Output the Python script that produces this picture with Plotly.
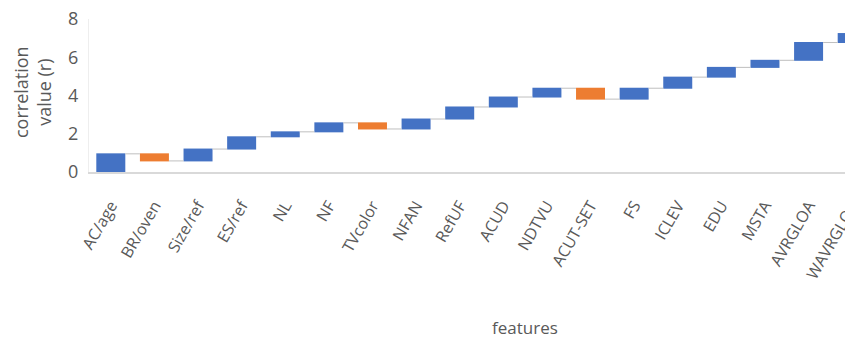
import plotly.graph_objects as go

features = ["AC/age", "BR/oven", "Size/ref", "ES/ref", "NL", "NF", "TVcolor", "NFAN",
            "RefUF", "ACUD", "NDTVU", "ACUT-SET", "FS", "ICLEV", "EDU", "MSTA",
            "AVRGLOA", "WAVRGLOA"]
changes = [0.95, -0.37, 0.62, 0.64, 0.26, 0.47, -0.32, 0.52,
           0.63, 0.52, 0.46, -0.57, 0.57, 0.58, 0.51, 0.37,
           0.93, 0.47]
y_ticks = [0, 2, 4, 6, 8]

BLUE = "#4472C4"
ORANGE = "#ED7D31"
GREY_TXT = "#595959"
FONT = "Open Sans"

W, H = 874, 341
L, T, B = 89, 19, 169
PW = W - L
PH = H - T - B

fig = go.Figure(go.Waterfall(
    x=features,
    y=changes,
    measure=["relative"] * len(features),
    increasing=dict(marker=dict(color=BLUE)),
    decreasing=dict(marker=dict(color=ORANGE)),
    connector=dict(line=dict(color="#BFBFBF", width=1)),
    showlegend=False,
))

fig.update_layout(
    width=W, height=H,
    margin=dict(l=L, r=0, t=T, b=B),
    paper_bgcolor="white", plot_bgcolor="white",
    waterfallgap=0.335,
    font=dict(family=FONT, color=GREY_TXT),
    xaxis=dict(
        range=[-0.5, len(features) - 0.5],
        tickangle=-60,
        tickfont=dict(size=16, color=GREY_TXT),
        ticklabelstandoff=16,
        showline=True, linecolor="#D9D9D9", linewidth=2,
        showgrid=False, ticks="",
    ),
    yaxis=dict(
        range=[0, 8],
        tickvals=y_ticks,
        tickfont=dict(size=18, color=GREY_TXT),
        ticklabelstandoff=6,
        showline=True, linecolor="#EEEEEE", linewidth=1,
        showgrid=False, zeroline=False, ticks="",
    ),
    annotations=[
        dict(text="correlation<br>value (r)", textangle=-90, x=(32 - L) / PW, xref="paper",
             y=(T + PH - 92) / PH, yref="paper", showarrow=False,
             font=dict(size=18, color=GREY_TXT), xanchor="center", yanchor="middle"),
        dict(text="features", x=(525 - L) / PW, xref="paper", y=(T + PH - 327) / PH,
             yref="paper", showarrow=False, font=dict(size=17, color=GREY_TXT),
             xanchor="center", yanchor="middle"),
    ],
)

fig.write_html("out.html")
